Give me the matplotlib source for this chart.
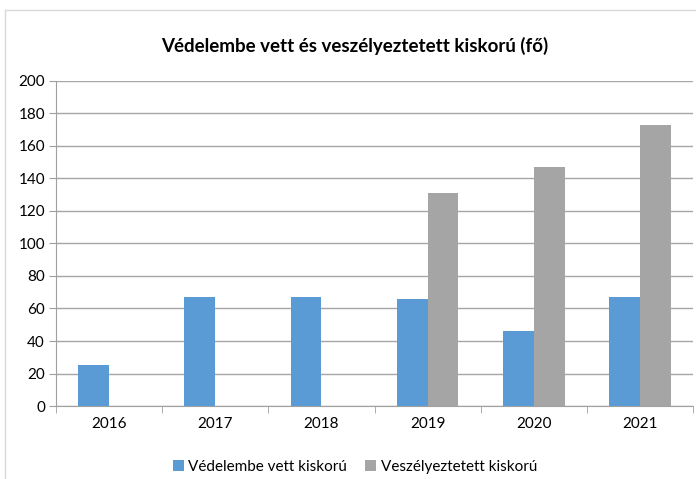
import matplotlib.pyplot as plt
import numpy as np
from matplotlib.lines import Line2D

years = ["2016", "2017", "2018", "2019", "2020", "2021"]
vedelembe = [25, 67, 67, 66, 46, 67]
veszelyeztetett = [0, 0, 0, 131, 147, 173]

plt.rcParams['font.family'] = ['Lato', 'DejaVu Sans']

fig = plt.figure(figsize=(6.96, 4.79), dpi=100)
ax = fig.add_axes([0.0805, 0.1524, 0.9152, 0.6785])

x = np.arange(len(years))
w = 0.29
ax.bar(x - w/2, vedelembe, w, color='#5B9BD5', label='Védelembe vett kiskorú', zorder=3)
ax.bar(x + w/2, veszelyeztetett, w, color='#A5A5A5', label='Veszélyeztetett kiskorú', zorder=3)

ax.set_xlim(-0.5, len(years) - 0.5)
ax.set_ylim(0, 200)
ax.set_yticks(range(0, 201, 20))
ax.set_xticks(x)
ax.set_xticklabels(years)
# tick marks between categories
ax.set_xticks(np.arange(-0.5, len(years), 1), minor=True)
ax.tick_params(axis='x', which='major', length=0, pad=8, labelsize=11)
ax.tick_params(axis='x', which='minor', length=5, color='#A0A0A0')
ax.tick_params(axis='y', length=5, color='#A0A0A0', labelsize=11, pad=3)

ax.yaxis.grid(True, color='#A6A6A6', linewidth=1, zorder=0)
for s in ['top', 'right']:
    ax.spines[s].set_visible(False)
ax.spines['left'].set_color('#A0A0A0')
ax.spines['bottom'].set_color('#A0A0A0')

fig.text(0.51, 0.904, 'Védelembe vett és veszélyeztetett kiskorú (fő)',
         ha='center', va='center', fontsize=13.5, fontweight='bold')

fig.legend(loc='center', bbox_to_anchor=(0.51, 0.025), ncol=2, frameon=False,
           fontsize=11, handlelength=0.7, handleheight=0.7, handletextpad=0.3,
           columnspacing=1.2)

# chart area border
fig.add_artist(Line2D([5/696, 5/696], [0, 1 - 10/479], color='#D9D9D9', lw=1))
fig.add_artist(Line2D([5/696, 1], [1 - 10/479, 1 - 10/479], color='#D9D9D9', lw=1))

fig.savefig('out.png', dpi=100)
